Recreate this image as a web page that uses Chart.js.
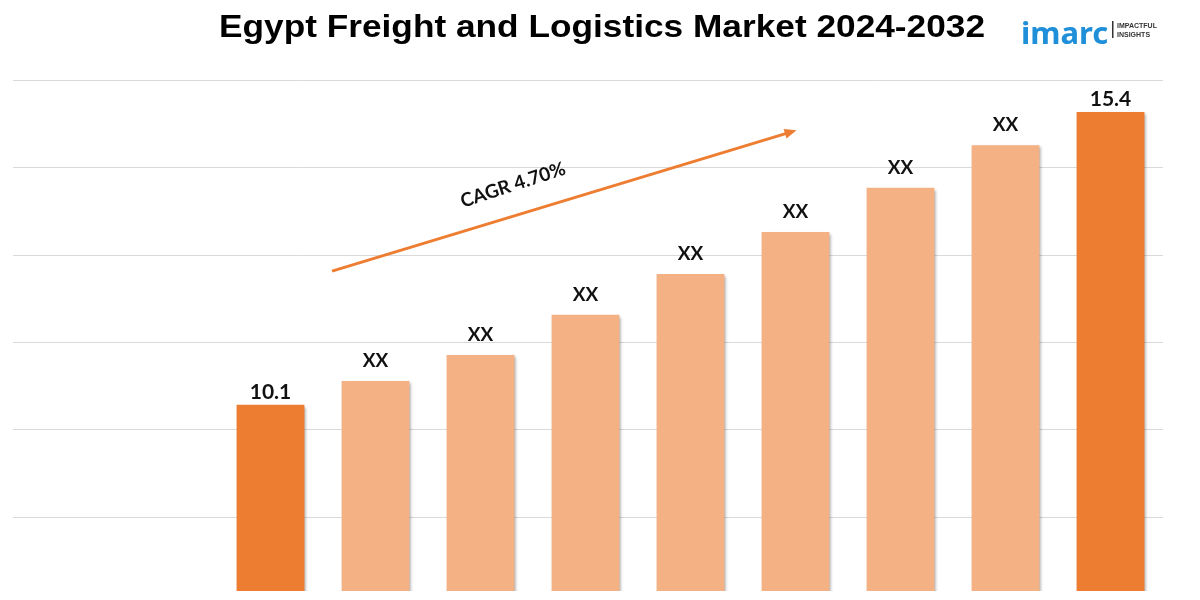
<!DOCTYPE html>
<html>
<head>
<meta charset="utf-8">
<script src="https://cdn.jsdelivr.net/npm/chart.js@4.4.1/dist/chart.umd.min.js"></script>
<style>
  html, body { margin: 0; padding: 0; background: #fff; }
  #wrap { width: 1200px; height: 600px; position: relative; }
</style>
</head>
<body>
<div id="wrap"><canvas id="marketChart"></canvas></div>
<script>
// Datos del gráfico
const years = ['2024', '2025', '2026', '2027', '2028', '2029', '2030', '2031', '2032'];
const marketValues = [10.1, 10.53, 11.0, 11.73, 12.47, 13.23, 14.03, 14.8, 15.4];
const valueLabels = ['10.1', 'XX', 'XX', 'XX', 'XX', 'XX', 'XX', 'XX', '15.4'];
const gridValues = [8.07, 9.67, 11.24, 12.81, 14.4, 15.98];
const cagrText = 'CAGR 4.70%';
const titleText = 'Egypt Freight and Logistics Market 2024-2032';
// Flecha CAGR en coordenadas de datos (índice de categoría, valor)
const arrowFrom = [0.586, 12.52];
const arrowTo = [5.01, 15.07];
const cagrAnchor = [2.31, 14.08];

const DARK = '#ED7D31';
const LIGHT = '#F4B183';
const barColors = marketValues.map((v, i) => (i === 0 || i === marketValues.length - 1) ? DARK : LIGHT);

// Líneas de cuadrícula a todo el ancho
const fullGrid = {
  id: 'fullGrid',
  beforeDatasetsDraw(chart) {
    const { ctx, chartArea, scales: { y } } = chart;
    ctx.save();
    ctx.strokeStyle = '#d9d9d9';
    ctx.lineWidth = 1;
    gridValues.forEach(v => {
      const py = Math.round(y.getPixelForValue(v)) + 0.5;
      ctx.beginPath();
      ctx.moveTo(13, py);
      ctx.lineTo(chartArea.right, py);
      ctx.stroke();
    });
    ctx.restore();
  }
};

// Sombra suave de las barras
const barShadow = {
  id: 'barShadow',
  beforeDatasetsDraw(chart) {
    const ctx = chart.ctx;
    ctx.save();
    ctx.shadowColor = 'rgba(0,0,0,0.35)';
    ctx.shadowOffsetX = 2;
    ctx.shadowOffsetY = 2;
    ctx.shadowBlur = 3;
  },
  afterDatasetsDraw(chart) {
    chart.ctx.restore();
  }
};

// Etiquetas, flecha, título y logo
const extras = {
  id: 'extras',
  afterDraw(chart) {
    const { ctx, scales: { x, y } } = chart;
    const meta = chart.getDatasetMeta(0);

    // etiquetas de valor
    ctx.save();
    ctx.fillStyle = '#111';
    ctx.textAlign = 'center';
    ctx.textBaseline = 'alphabetic';
    meta.data.forEach((bar, i) => {
      const txt = valueLabels[i];
      const isNum = txt !== 'XX';
      ctx.font = isNum ? 'bold 21px Lato' : 'bold 19px Lato';
      ctx.fillText(txt, bar.x, bar.y - (isNum ? 6 : 14));
    });
    ctx.restore();

    // flecha CAGR
    const x1 = x.getPixelForValue(arrowFrom[0]), y1 = y.getPixelForValue(arrowFrom[1]);
    const x2 = x.getPixelForValue(arrowTo[0]), y2 = y.getPixelForValue(arrowTo[1]);
    const ang = Math.atan2(y2 - y1, x2 - x1);
    ctx.save();
    ctx.strokeStyle = DARK;
    ctx.fillStyle = DARK;
    ctx.lineWidth = 3;
    ctx.beginPath();
    ctx.moveTo(x1, y1);
    ctx.lineTo(x2 - 8 * Math.cos(ang), y2 - 8 * Math.sin(ang));
    ctx.stroke();
    ctx.translate(x2, y2);
    ctx.rotate(ang);
    ctx.beginPath();
    ctx.moveTo(0, 0);
    ctx.lineTo(-12, -5);
    ctx.lineTo(-12, 5);
    ctx.closePath();
    ctx.fill();
    ctx.restore();

    // texto CAGR
    ctx.save();
    ctx.translate(x.getPixelForValue(cagrAnchor[0]), y.getPixelForValue(cagrAnchor[1]));
    ctx.rotate(-18 * Math.PI / 180);
    ctx.fillStyle = '#111';
    ctx.font = 'bold 19px Lato';
    ctx.textAlign = 'center';
    ctx.textBaseline = 'middle';
    ctx.fillText(cagrText, 0, 0);
    ctx.restore();

    // título (algo estirado en horizontal como el original)
    ctx.save();
    ctx.fillStyle = '#000';
    ctx.font = 'bold 31px "Liberation Sans"';
    const w = ctx.measureText(titleText).width;
    ctx.translate(602, 37);
    ctx.scale(766 / w, 1);
    ctx.textAlign = 'center';
    ctx.textBaseline = 'alphabetic';
    ctx.fillText(titleText, 0, 0);
    ctx.restore();

    // logo imarc
    ctx.save();
    ctx.fillStyle = '#1e8fd8';
    ctx.font = 'bold 31px "Noto Sans"';
    ctx.textAlign = 'left';
    ctx.textBaseline = 'alphabetic';
    ctx.fillText('imarc', 1021, 44);
    ctx.fillStyle = '#333';
    ctx.fillRect(1112, 21, 1.5, 17);
    ctx.font = 'bold 7px "Liberation Sans"';
    ctx.fillText('IMPACTFUL', 1117, 28);
    ctx.fillText('INSIGHTS', 1117, 37);
    ctx.restore();
  }
};

new Chart(document.getElementById('marketChart'), {
  type: 'bar',
  data: {
    labels: years,
    datasets: [{
      data: marketValues,
      backgroundColor: barColors,
      borderWidth: 0,
      categoryPercentage: 1,
      barPercentage: 0.646
    }]
  },
  options: {
    responsive: true,
    maintainAspectRatio: false,
    animation: false,
    layout: { padding: { left: 218, right: 37, top: 80, bottom: 9 } },
    scales: {
      x: { display: false },
      y: { display: false, min: 6.73, max: 15.98 }
    },
    plugins: {
      legend: { display: false },
      tooltip: { enabled: false }
    }
  },
  plugins: [fullGrid, barShadow, extras]
});
</script>
</body>
</html>
